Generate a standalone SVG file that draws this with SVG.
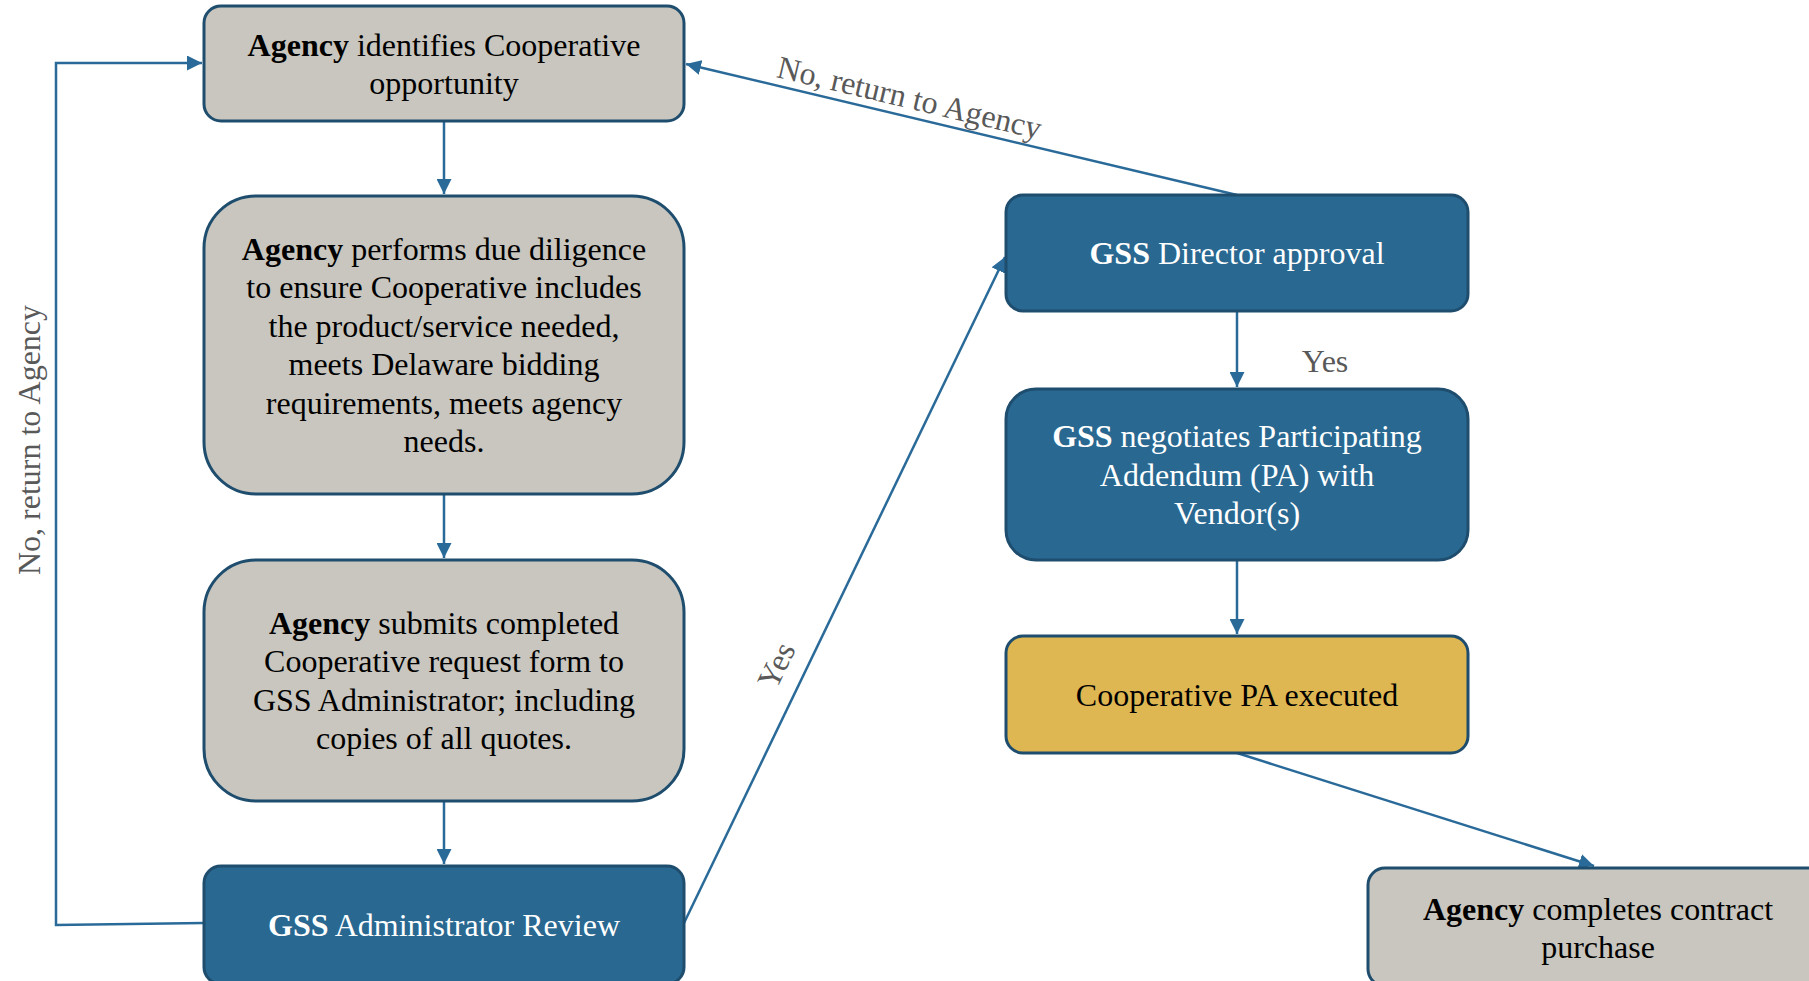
<svg xmlns="http://www.w3.org/2000/svg" width="1809" height="981" viewBox="0 0 1809 981">
<style>
.gray{fill:#C8C6BE;stroke:#1E4D6E;stroke-width:3}
.blue{fill:#286891;stroke:#1E4D6E;stroke-width:3}
.yel{fill:#DEB753;stroke:#1E4D6E;stroke-width:3}
text{font-family:"Liberation Serif","Times New Roman",serif;font-size:32px;text-anchor:middle}
.dk{fill:#000}
.wt{fill:#fff}
.lbl{fill:#595959}
b,.b{font-weight:bold}
.c{fill:none;stroke:#2A6A99;stroke-width:2.5}
</style>
<defs>
<marker id="ah" viewBox="0 0 10 10" refX="10" refY="5" markerWidth="6" markerHeight="6" orient="auto" markerUnits="strokeWidth">
<path d="M0,0 L10,5 L0,10 z" fill="#2A6A99"/>
</marker>
</defs>
<rect width="1809" height="981" fill="#fff"/>
<g id="connectors">
<line class="c" x1="444" y1="121" x2="444" y2="194" marker-end="url(#ah)"/>
<line class="c" x1="444" y1="494" x2="444" y2="558" marker-end="url(#ah)"/>
<line class="c" x1="444" y1="801" x2="444" y2="864" marker-end="url(#ah)"/>
<polyline class="c" points="204,923 56,925 56,63 202,63" marker-end="url(#ah)"/>
<line class="c" x1="684" y1="923" x2="1005" y2="257" marker-end="url(#ah)"/>
<line class="c" x1="1237" y1="195" x2="686" y2="64" marker-end="url(#ah)"/>
<line class="c" x1="1237" y1="311" x2="1237" y2="387" marker-end="url(#ah)"/>
<line class="c" x1="1237" y1="560" x2="1237" y2="634" marker-end="url(#ah)"/>
<line class="c" x1="1237" y1="753" x2="1594" y2="866" marker-end="url(#ah)"/>
<text class="lbl" transform="translate(40,440) rotate(-90)">No, return to Agency</text>
<text class="lbl" transform="translate(907,108) rotate(13.3)">No, return to Agency</text>
<text class="lbl" transform="translate(786,670) rotate(-64)">Yes</text>
<text class="lbl" x="1325" y="372">Yes</text>
</g>
<g id="n1">
<rect class="gray" x="204" y="6" width="480" height="115" rx="17"/>
<text class="dk" x="444" y="56"><tspan class="b">Agency</tspan> identifies Cooperative</text>
<text class="dk" x="444" y="94">opportunity</text>
</g>
<g id="n2">
<rect class="gray" x="204" y="196" width="480" height="298" rx="52"/>
<text class="dk" x="444" y="260"><tspan class="b">Agency</tspan> performs due diligence</text>
<text class="dk" x="444" y="298">to ensure Cooperative includes</text>
<text class="dk" x="444" y="337">the product/service needed,</text>
<text class="dk" x="444" y="375">meets Delaware bidding</text>
<text class="dk" x="444" y="414">requirements, meets agency</text>
<text class="dk" x="444" y="452">needs.</text>
</g>
<g id="n3">
<rect class="gray" x="204" y="560" width="480" height="241" rx="52"/>
<text class="dk" x="444" y="634"><tspan class="b">Agency</tspan> submits completed</text>
<text class="dk" x="444" y="672">Cooperative request form to</text>
<text class="dk" x="444" y="711">GSS Administrator; including</text>
<text class="dk" x="444" y="749">copies of all quotes.</text>
</g>
<g id="n4">
<rect class="blue" x="204" y="866" width="480" height="118" rx="17"/>
<text class="wt" x="444" y="936"><tspan class="b">GSS</tspan> Administrator Review</text>
</g>
<g id="n5">
<rect class="blue" x="1006" y="195" width="462" height="116" rx="17"/>
<text class="wt" x="1237" y="264"><tspan class="b">GSS</tspan> Director approval</text>
</g>
<g id="n6">
<rect class="blue" x="1006" y="389" width="462" height="171" rx="30"/>
<text class="wt" x="1237" y="447"><tspan class="b">GSS</tspan> negotiates Participating</text>
<text class="wt" x="1237" y="486">Addendum (PA) with</text>
<text class="wt" x="1237" y="524">Vendor(s)</text>
</g>
<g id="n7">
<rect class="yel" x="1006" y="636" width="462" height="117" rx="17"/>
<text class="dk" x="1237" y="706">Cooperative PA executed</text>
</g>
<g id="n8">
<rect class="gray" x="1368" y="868" width="462" height="118" rx="17"/>
<text class="dk" x="1598" y="920"><tspan class="b">Agency</tspan> completes contract</text>
<text class="dk" x="1598" y="958">purchase</text>
</g>
</svg>
